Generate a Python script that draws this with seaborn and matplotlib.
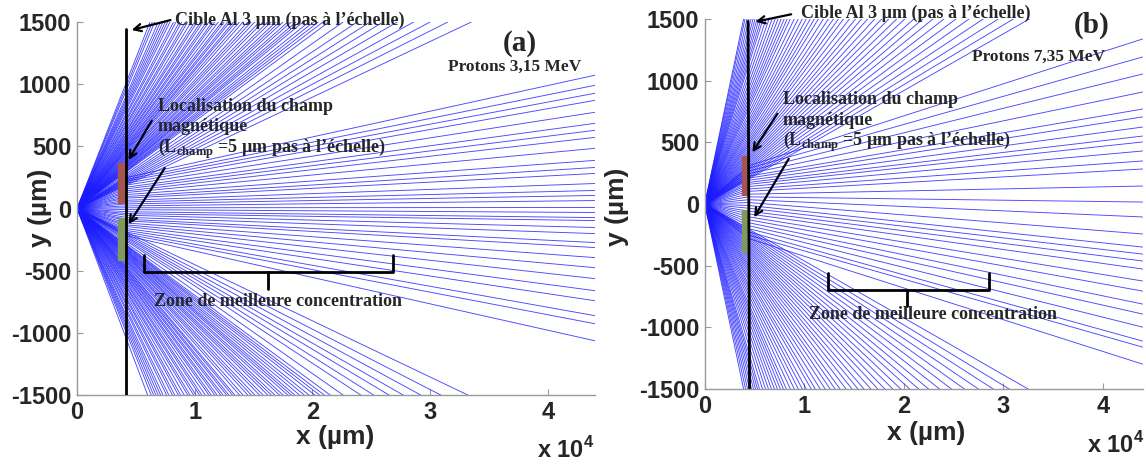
import numpy as np
import pandas as pd
import matplotlib.pyplot as plt
import seaborn as sns
from matplotlib.patches import Rectangle

sns.set_style("white")
plt.rcParams["font.family"] = ["Liberation Sans", "DejaVu Sans"]
plt.rcParams["font.weight"] = "bold"
plt.rcParams["mathtext.fontset"] = "custom"
plt.rcParams["mathtext.bf"] = "Liberation Serif:bold"
plt.rcParams["mathtext.rm"] = "Liberation Serif:bold"
plt.rcParams["mathtext.sf"] = "Liberation Sans:bold"

# ==============================
# Data - panel (a), protons 3,15 MeV
# ==============================
target_x_a = 4150
# x (um) where undeflected rays leave the frame through the top / bottom
top_hits_a = [6200, 6400, 6600, 6900, 7100, 7300, 7500, 7700, 7900, 8200, 8400, 8700,
              8900, 9200, 9400, 9700, 10000, 10200, 10500, 10700, 11000, 11200, 11500,
              11700, 12000, 12300, 12500, 12800, 13000, 13300, 13500, 13800, 14100,
              14500, 14800, 15100, 15500, 15800, 16200, 16500, 16900, 17200, 17500,
              17900, 18200, 18600, 18900, 19200, 19700, 20100, 20500, 20900, 21400,
              22600, 23800, 24900, 26000, 27200, 28600, 30000, 31500, 33500]
bottom_hits_a = [6000, 6300, 6500, 6700, 6900, 7100, 7300, 7600, 7800, 8100, 8300, 8600,
                 8800, 9100, 9400, 9600, 9900, 10100, 10400, 10600, 10900, 11200, 11400,
                 11700, 11900, 12200, 12400, 12700, 12900, 13200, 13400, 13800, 14100,
                 14500, 14800, 15100, 15500, 15800, 16200, 16500, 16800, 17200, 17500,
                 17900, 18200, 18500, 18900, 19300, 19700, 20200, 20600, 21000, 21500,
                 22600, 24100, 25200, 26500, 27700, 29200, 30900, 33200]
# rays bent by the field: height on the target, height at x = 44000 um
center_yt_a = [248, 232, 219, 203, 188, 171, 157, 141, 128, 112, 96, 83, 66, 52, 37, 21,
               6, -9, -26, -41, -54, -71, -86, -99, -116, -131, -144, -161, -176, -189,
               -204, -218]
center_yend_a = [1072, 991, 927, 870, 774, 685, 629, 572, 484, 387, 330, 282, 201, 145,
                 105, 64, 8, -32, -73, -97, -153, -202, -274, -314, -395, -476, -564,
                 -661, -742, -862, -927, -1064]
red_zone_a = [3500, 4085, 42, 363]      # x0, x1, y0, y1
green_zone_a = [3500, 4000, -414, -79]

# ==============================
# Data - panel (b), protons 7,35 MeV
# ==============================
target_x_b = [4350, 4500]   # target top / bottom x
top_hits_b = [3900, 4040, 4240, 4440, 4650, 4850, 5050, 5250, 5450, 5660, 5860, 6160,
              6460, 6770, 7070, 7370, 7680, 7980, 8280, 8590, 8990, 9390, 9800, 10200,
              10600, 11010, 11410, 11920, 12420, 12930, 13430, 13940, 14540, 15150,
              15750, 16360, 17070, 17780, 18480, 19290, 20100, 21010, 21920, 22930,
              24040, 25250, 26560, 27980, 29490, 31010, 32620]
bottom_hits_b = [3900, 4100, 4300, 4500, 4700, 4900, 5100, 5300, 5500, 5800, 6100, 6400,
                 6700, 7000, 7300, 7600, 7900, 8200, 8600, 9000, 9400, 9800, 10200,
                 10700, 11100, 11600, 12100, 12600, 13100, 13600, 14200, 14800, 15400,
                 16000, 16700, 17400, 18100, 18900, 19700, 20600, 21500, 22500, 23600,
                 24800, 26100, 27500, 29000, 30600, 32500]
center_yt_b = [310, 290, 268, 247, 226, 210, 193, 176, 160, 142, 122, 103, 80, 58, 35,
               12, -12, -34, -58, -80, -104, -128, -152, -176, -200, -226, -252, -280]
center_yend_b = [1338, 1192, 1054, 908, 770, 706, 624, 551, 503, 430, 349, 284, 146, 16,
                 -105, -243, -349, -406, -462, -527, -624, -706, -811, -892, -998, -1111,
                 -1160, -1298]
red_zone_b = [3700, 4200, 70, 390]
green_zone_b = [3700, 4200, -385, -45]

x_max = 44000
y_lim = 1500
line_color = "#1a1aff"
serif = ["Liberation Serif", "DejaVu Serif"]


def trajectories(top_hits, bottom_hits, target_x, yt, yend):
    rows = []
    k = 0
    for xh in top_hits:
        rows += [(k, 0, 0), (k, xh, y_lim)]
        k += 1
    for xh in bottom_hits:
        rows += [(k, 0, 0), (k, xh, -y_lim)]
        k += 1
    for a, b in zip(yt, yend):
        rows += [(k, 0, 0), (k, target_x, a), (k, x_max, b)]
        k += 1
    return pd.DataFrame(rows, columns=["traj", "x", "y"])


def style_axes(ax):
    ax.set_xlim(0, x_max)
    ax.set_ylim(-y_lim, y_lim)
    ax.set_xticks([0, 10000, 20000, 30000, 40000])
    ax.set_xticklabels(["0", "1", "2", "3", "4"])
    ax.set_yticks([-1500, -1000, -500, 0, 500, 1000, 1500])
    ax.set_yticklabels(["-1500", "-1000", "-500", "0", "500", "1000", "1500"])
    ax.tick_params(bottom=True, left=True, direction="in", length=4, color="#999999",
                   labelsize=17, pad=4)
    for lab in ax.get_xticklabels() + ax.get_yticklabels():
        lab.set_fontweight("bold")
    for s in ["top", "right"]:
        ax.spines[s].set_visible(False)
    for s in ["left", "bottom"]:
        ax.spines[s].set_color("#999999")
        ax.spines[s].set_linewidth(1.0)
    ax.set_xlabel("")
    ax.set_ylabel("")


def arrow(ax, tail, tip):
    ax.annotate("", xy=tip, xytext=tail,
                arrowprops=dict(arrowstyle="->", color="black", lw=1.6, mutation_scale=13),
                annotation_clip=False)


def brace(ax, x0, x1, xm, ytip, yh, ymid):
    ax.plot([x0, x0, x1, x1], [ytip, yh, yh, ytip], color="black", lw=2, clip_on=False)
    ax.plot([xm, xm], [yh, ymid], color="black", lw=2)


fig = plt.figure(figsize=(11.46, 4.65), dpi=100)
ax_a = fig.add_axes([0.0672, 0.1505, 0.452, 0.8022])
ax_b = fig.add_axes([0.615, 0.1634, 0.382, 0.7957])

# ==============================
# Panel (a)
# ==============================
df_a = trajectories(top_hits_a, bottom_hits_a, target_x_a, center_yt_a, center_yend_a)
sns.lineplot(data=df_a, x="x", y="y", units="traj", estimator=None, sort=False,
             color=line_color, lw=0.65, alpha=0.8, ax=ax_a)
ax_a.add_patch(Rectangle((red_zone_a[0], red_zone_a[2]), red_zone_a[1] - red_zone_a[0],
                         red_zone_a[3] - red_zone_a[2], color="#a5554f", zorder=3))
ax_a.add_patch(Rectangle((green_zone_a[0], green_zone_a[2]), green_zone_a[1] - green_zone_a[0],
                         green_zone_a[3] - green_zone_a[2], color="#7f9a5c", zorder=3))
ax_a.plot([target_x_a, target_x_a], [1441, -1500], color="black", lw=2, zorder=4)
style_axes(ax_a)

ax_a.text(8330, 1516, "Cible Al 3 µm (pas à l’échelle)", family=serif, fontsize=13,
          fontweight="bold", va="center")
arrow(ax_a, (8170, 1521), (4410, 1430))
ax_a.text(37580, 1330, "(a)", family=serif, fontsize=21, fontweight="bold",
          ha="center", va="center")
ax_a.text(37200, 1140, "Protons 3,15 MeV", family=serif, fontsize=12.5,
          fontweight="bold", ha="center", va="center")
ax_a.text(6860, 824, "Localisation du champ", family=serif, fontsize=13,
          fontweight="bold", va="center")
ax_a.text(6860, 658, "magnétique", family=serif, fontsize=13, fontweight="bold",
          va="center")
ax_a.text(6860, 479, r"(L$_{\mathbf{champ}}$ =5 µm pas à l’échelle)", family=serif,
          fontsize=13, fontweight="bold", va="center")
arrow(ax_a, (6470, 725), (4250, 371))
arrow(ax_a, (7580, 344), (4250, -146))
brace(ax_a, 5720, 26800, 16240, -374, -508, -650)
ax_a.text(17060, -749, "Zone de meilleure concentration", family=serif, fontsize=13,
          fontweight="bold", ha="center", va="center")

# ==============================
# Panel (b)
# ==============================
df_b = trajectories(top_hits_b, bottom_hits_b, np.mean(target_x_b), center_yt_b,
                    center_yend_b)
sns.lineplot(data=df_b, x="x", y="y", units="traj", estimator=None, sort=False,
             color=line_color, lw=0.65, alpha=0.8, ax=ax_b)
ax_b.add_patch(Rectangle((red_zone_b[0], red_zone_b[2]), red_zone_b[1] - red_zone_b[0],
                         red_zone_b[3] - red_zone_b[2], color="#a5554f", zorder=3))
ax_b.add_patch(Rectangle((green_zone_b[0], green_zone_b[2]), green_zone_b[1] - green_zone_b[0],
                         green_zone_b[3] - green_zone_b[2], color="#7f9a5c", zorder=3))
ax_b.plot(target_x_b, [1481, -1492], color="black", lw=2, zorder=4)
style_axes(ax_b)

ax_b.text(9630, 1543, "Cible Al 3 µm (pas à l’échelle)", family=serif, fontsize=13,
          fontweight="bold", va="center")
arrow(ax_b, (8960, 1543), (4820, 1473))
ax_b.text(38900, 1450, "(b)", family=serif, fontsize=21, fontweight="bold",
          ha="center", va="center")
ax_b.text(33550, 1190, "Protons 7,35 MeV", family=serif, fontsize=12.5,
          fontweight="bold", ha="center", va="center")
ax_b.text(7830, 851, "Localisation du champ", family=serif, fontsize=13,
          fontweight="bold", va="center")
ax_b.text(7830, 678, "magnétique", family=serif, fontsize=13, fontweight="bold",
          va="center")
ax_b.text(7830, 500, r"(L$_{\mathbf{champ}}$ =5 µm pas à l’échelle)", family=serif,
          fontsize=13, fontweight="bold", va="center")
arrow(ax_b, (7450, 751), (4630, 400))
arrow(ax_b, (8580, 386), (4820, -127))
brace(ax_b, 12340, 28520, 20360, -560, -695, -830)
ax_b.text(22950, -898, "Zone de meilleure concentration", family=serif, fontsize=13,
          fontweight="bold", ha="center", va="center")

# ==============================
# Axis labels and x 10^4 multipliers
# ==============================
W, H = 1146, 465
fig.text(335 / W, 1 - 437 / H, "x (µm)", fontsize=19, fontweight="bold",
         ha="center", va="center")
fig.text(40 / W, 1 - 208 / H, "y (µm)", fontsize=19, fontweight="bold",
         ha="center", va="center", rotation=90)
fig.text(926 / W, 1 - 433 / H, "x (µm)", fontsize=19, fontweight="bold",
         ha="center", va="center")
fig.text(617 / W, 1 - 207 / H, "y (µm)", fontsize=19, fontweight="bold",
         ha="center", va="center", rotation=90)
fig.text(566 / W, 1 - 450 / H, r"x 10$^{\mathsf{4}}$", fontsize=17, fontweight="bold",
         ha="center", va="center")
fig.text(1116 / W, 1 - 445 / H, r"x 10$^{\mathsf{4}}$", fontsize=17, fontweight="bold",
         ha="center", va="center")

fig.savefig("out.png", dpi=100)
